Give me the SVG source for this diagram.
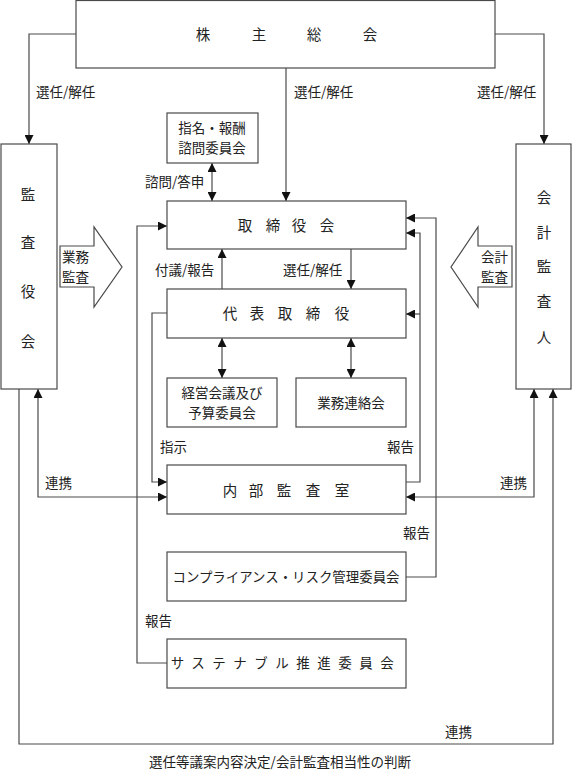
<svg xmlns="http://www.w3.org/2000/svg" width="572" height="770" viewBox="0 0 572 770">
<style>
.box{fill:#fff;stroke:#4a4a4a;stroke-width:1.2}
.ln{fill:none;stroke:#4a4a4a;stroke-width:1.2}
text{font-family:"Noto Sans CJK JP","Liberation Serif",serif;fill:#222;font-size:13.5px}
.c{text-anchor:middle}
.n{font-size:14.5px}
</style>
<defs>
<marker id="ah" viewBox="0 0 10 10" refX="10" refY="5" markerWidth="10" markerHeight="9" markerUnits="userSpaceOnUse" orient="auto-start-reverse">
<path d="M0,0 L10,5 L0,10 Z" fill="#111"/>
</marker>
</defs>

<g id="connectors">
<path class="ln" d="M76,34 H29 V144" marker-end="url(#ah)"/>
<path class="ln" d="M495,34 H544 V144" marker-end="url(#ah)"/>
<path class="ln" d="M286,68 V201" marker-end="url(#ah)"/>
<path class="ln" d="M212,163 V201" marker-start="url(#ah)" marker-end="url(#ah)"/>
<path class="ln" d="M222,289 V249" marker-end="url(#ah)"/>
<path class="ln" d="M351,249 V289" marker-end="url(#ah)"/>
<path class="ln" d="M222,338 V378" marker-start="url(#ah)" marker-end="url(#ah)"/>
<path class="ln" d="M351,338 V378" marker-start="url(#ah)" marker-end="url(#ah)"/>
<path class="ln" d="M167,313 H152 V482 H167" marker-end="url(#ah)"/>
<path class="ln" d="M406,482 H420 V233 H406" marker-end="url(#ah)"/>
<path class="ln" d="M420,314 H406" marker-end="url(#ah)"/>
<path class="ln" d="M406,577 H436 V218 H406" marker-end="url(#ah)"/>
<path class="ln" d="M167,663 H137 V226 H167" marker-end="url(#ah)"/>
<path class="ln" d="M38,389 V497 H167" marker-start="url(#ah)" marker-end="url(#ah)"/>
<path class="ln" d="M534,389 V497 H406" marker-start="url(#ah)" marker-end="url(#ah)"/>
<path class="ln" d="M19,389 V744 H553 V389" marker-end="url(#ah)"/>
<text x="36" y="97">選任/解任</text>
<text x="294" y="97">選任/解任</text>
<text x="477" y="97">選任/解任</text>
<text x="145" y="187">諮問/答申</text>
<text x="155" y="275">付議/報告</text>
<text x="283" y="275">選任/解任</text>
<text x="160" y="452">指示</text>
<text x="387" y="452">報告</text>
<text x="45" y="488">連携</text>
<text x="500" y="488">連携</text>
<text x="403" y="538">報告</text>
<text x="145" y="626">報告</text>
<text x="445" y="737">連携</text>
</g>

<g id="shareholders">
<rect class="box" x="76" y="0.5" width="419" height="67.5"/>
<text class="c n" x="203" y="40">株</text>
<text class="c n" x="259" y="40">主</text>
<text class="c n" x="314" y="40">総</text>
<text class="c n" x="370" y="40">会</text>
</g>

<g id="audit-board">
<rect class="box" x="1" y="144" width="56" height="245"/>
<text class="c n" x="28" y="200">監</text>
<text class="c n" x="28" y="248">査</text>
<text class="c n" x="28" y="297">役</text>
<text class="c n" x="28" y="347">会</text>
</g>

<g id="accounting-auditor">
<rect class="box" x="516" y="144" width="55" height="245"/>
<text class="c n" x="544" y="203">会</text>
<text class="c n" x="544" y="238">計</text>
<text class="c n" x="544" y="272">監</text>
<text class="c n" x="544" y="307">査</text>
<text class="c n" x="544" y="343">人</text>
</g>

<g id="business-audit-arrow">
<path class="box" d="M60,246 H94 V227 L122,267 L94,307 V287 H60 Z"/>
<text x="62" y="262">業務</text>
<text x="62" y="282">監査</text>
</g>

<g id="accounting-audit-arrow">
<path class="box" d="M512,246 H478 V227 L451,267 L478,307 V287 H512 Z"/>
<text x="481" y="262">会計</text>
<text x="481" y="282">監査</text>
</g>

<g id="nomination-committee">
<rect class="box" x="167" y="113" width="91" height="50"/>
<text class="c" x="212" y="133">指名・報酬</text>
<text class="c" x="212" y="153">諮問委員会</text>
</g>

<g id="board">
<rect class="box" x="167" y="201" width="239" height="48"/>
<text class="c n" x="245" y="231">取</text>
<text class="c n" x="273" y="231">締</text>
<text class="c n" x="299" y="231">役</text>
<text class="c n" x="327" y="231">会</text>
</g>

<g id="representative-director">
<rect class="box" x="167" y="289" width="239" height="49"/>
<text class="c n" x="230" y="319">代</text>
<text class="c n" x="257" y="319">表</text>
<text class="c n" x="285" y="319">取</text>
<text class="c n" x="313" y="319">締</text>
<text class="c n" x="342" y="319">役</text>
</g>

<g id="management-meeting">
<rect class="box" x="167" y="378" width="110" height="49"/>
<text class="c" x="222" y="398">経営会議及び</text>
<text class="c" x="222" y="418">予算委員会</text>
</g>

<g id="liaison-meeting">
<rect class="box" x="296" y="378" width="110" height="49"/>
<text class="c" x="351" y="408">業務連絡会</text>
</g>

<g id="internal-audit">
<rect class="box" x="167" y="465" width="239" height="49"/>
<text class="c n" x="230" y="496">内</text>
<text class="c n" x="256" y="496">部</text>
<text class="c n" x="284" y="496">監</text>
<text class="c n" x="313" y="496">査</text>
<text class="c n" x="342" y="496">室</text>
</g>

<g id="compliance-committee">
<rect class="box" x="167" y="552" width="239" height="49"/>
<text class="c" x="286" y="582" textLength="227" lengthAdjust="spacingAndGlyphs">コンプライアンス・リスク管理委員会</text>
</g>

<g id="sustainability-committee">
<rect class="box" x="167" y="639" width="239" height="49"/>
<text class="c" x="286" y="668" font-size="14" letter-spacing="7.5">サステナブル推進委員会</text>
</g>

<g id="caption">
<text class="c" x="280" y="767">選任等議案内容決定/会計監査相当性の判断</text>
</g>
</svg>
